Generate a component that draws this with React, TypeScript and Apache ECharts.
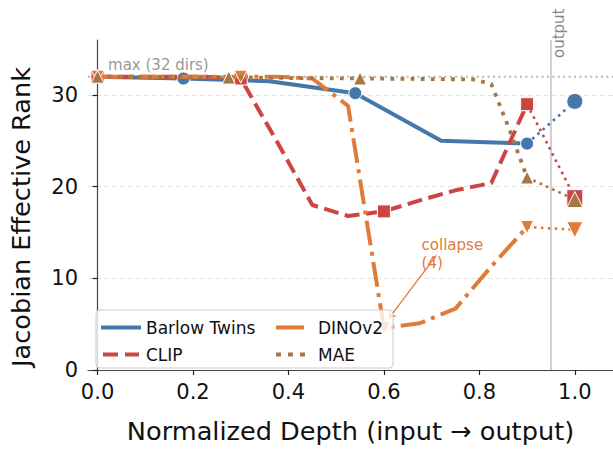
import React, { useEffect, useRef } from "react";
import * as echarts from "echarts";

const FONT = "DejaVu Sans";

// tick labels
const xTicks = [0, 0.2, 0.4, 0.6, 0.8, 1.0];
const yTicks = [0, 10, 20, 30];

// Barlow Twins
const barlowX = [0, 0.18, 0.36, 0.54, 0.72, 0.9];
const barlowY = [32.0, 31.8, 31.5, 30.2, 25.0, 24.7];
const barlowMarked = [1, 3, 5];

// CLIP
const clipX = [0, 0.075, 0.15, 0.225, 0.3, 0.375, 0.45, 0.525, 0.6, 0.675, 0.75, 0.825, 0.9];
const clipY = [32.0, 32.0, 32.0, 32.0, 31.8, 25.0, 18.0, 16.8, 17.3, 18.5, 19.6, 20.4, 29.0];
const clipMarked = [0, 4, 8, 12];

// DINOv2
const dinoX = [0, 0.075, 0.15, 0.225, 0.3, 0.375, 0.45, 0.525, 0.6, 0.675, 0.75, 0.825, 0.9];
const dinoY = [32.0, 32.0, 32.0, 32.0, 32.0, 32.0, 31.8, 28.8, 4.6, 5.1, 6.7, 11.3, 15.6];
const dinoMarked = [0, 4, 8, 12];

// MAE
const maeX = [0, 0.275, 0.55, 0.7875, 0.825, 0.8625, 0.9];
const maeY = [32.0, 31.9, 31.8, 31.7, 31.2, 26.3, 21.0];
const maeMarked = [0, 1, 2, 6];

// output layer values (x = 1.0)
const outputX = 1.0;
const outputValues = [29.3, 18.8, 15.3, 18.6]; // Barlow, CLIP, DINOv2, MAE

const maxRank = 32;
const outputBoundary = 0.95;

const COLORS = ["#4477aa", "#cc4444", "#e07b39", "#a67744"];
const NAMES = ["Barlow Twins", "CLIP", "DINOv2", "MAE"];

function mainSeries(
  name: string,
  xs: number[],
  ys: number[],
  marked: number[],
  color: string,
  lineType: any,
  width: number,
  symbol: string,
  rotate: number,
  z: number
) {
  return {
    type: "line",
    name,
    z,
    symbol,
    symbolSize: 13,
    symbolRotate: rotate,
    showSymbol: true,
    clip: false,
    lineStyle: { color, width, type: lineType, cap: "butt", join: "round" },
    itemStyle: { color, borderColor: "#ffffff", borderWidth: 1 },
    data: xs.map((x, i) =>
      marked.includes(i)
        ? { value: [x, ys[i]] }
        : { value: [x, ys[i]], symbol: "none" }
    ),
  };
}

function extSeries(
  name: string,
  x0: number,
  y0: number,
  y1: number,
  color: string,
  symbol: string,
  rotate: number,
  z: number
) {
  return {
    type: "line",
    name: name + " (output)",
    z,
    clip: false,
    symbol,
    symbolSize: 16,
    symbolRotate: rotate,
    lineStyle: { color, width: 2.6, type: [2.6, 4.3], cap: "butt" },
    itemStyle: { color, borderColor: "#ffffff", borderWidth: 1 },
    data: [{ value: [x0, y0], symbol: "none" }, { value: [outputX, y1] }],
  };
}

export default function App() {
  const ref = useRef<HTMLDivElement>(null);
  useEffect(() => {
    if (!ref.current) return;
    const chart = echarts.init(ref.current, null, { renderer: "svg" });
    const last = (a: number[]) => a[a.length - 1];
    const option: any = {
      animation: false,
      backgroundColor: "#ffffff",
      textStyle: { fontFamily: FONT },
      grid: { left: 87, right: 0, top: 40, bottom: 71, containLabel: false },
      xAxis: {
        type: "value",
        min: -0.02,
        max: 1.08,
        name: "Normalized Depth (input \u2192 output)",
        nameLocation: "middle",
        nameGap: 48,
        nameTextStyle: { fontSize: 25.6, color: "#111", fontFamily: FONT },
        axisLine: { onZero: false, lineStyle: { color: "#444", width: 1.2 } },
        axisTick: { show: true, length: 5, customValues: xTicks, lineStyle: { color: "#222", width: 1.2 } },
        axisLabel: {
          customValues: xTicks,
          formatter: (v: number) => v.toFixed(1),
          fontSize: 21,
          color: "#111",
          margin: 11,
          fontFamily: FONT,
        },
        splitLine: { show: false },
      },
      yAxis: {
        type: "value",
        min: 0,
        max: 36,
        interval: 10,
        name: "Jacobian Effective Rank",
        nameLocation: "middle",
        nameGap: 54,
        nameTextStyle: { fontSize: 25.6, color: "#111", fontFamily: FONT, padding: [0, 0, 0, -24] },
        axisLine: { show: true, lineStyle: { color: "#444", width: 1.2 } },
        axisTick: { show: true, length: 5, customValues: yTicks, lineStyle: { color: "#222", width: 1.2 } },
        axisLabel: { customValues: yTicks, fontSize: 21, color: "#111", margin: 10, fontFamily: FONT },
        splitLine: { show: true, lineStyle: { color: "#e3e3e3", type: [5, 3], width: 1 } },
      },
      legend: [
        {
          data: [
            { name: NAMES[0], icon: "path://M0 0h40v4H0z" },
            { name: NAMES[1], icon: "path://M2 0h15v4H2z M24 0h14v4H24z M0 0L0 4 M40 0L40 4" },
          ],
          orient: "vertical",
          left: 96,
          top: 314,
          itemWidth: 40,
          itemHeight: 4,
          itemGap: 10,
          selectedMode: false,
          itemStyle: { borderWidth: 0 },
          textStyle: { fontSize: 17, color: "#111", fontFamily: FONT },
          z: 30,
        },
        {
          data: [
            { name: NAMES[2], icon: "path://M3 0h28v4H3z M0 0L0 4 M40 0L40 4" },
            { name: NAMES[3], icon: "path://M3 0h5v4H3z M15 0h5v4H15z M27 0h5v4H27z M0 0L0 4 M40 0L40 4" },
          ],
          orient: "vertical",
          left: 268,
          top: 314,
          itemWidth: 40,
          itemHeight: 4,
          itemGap: 10,
          selectedMode: false,
          itemStyle: { borderWidth: 0 },
          textStyle: { fontSize: 17, color: "#111", fontFamily: FONT },
          z: 30,
        },
      ],
      series: [
        {
          type: "line",
          name: "output boundary",
          z: 1,
          symbol: "none",
          clip: true,
          lineStyle: { color: "#d0d0d0", width: 2 },
          data: [[outputBoundary, 0], [outputBoundary, 36]],
        },
        {
          type: "line",
          name: "max line",
          z: 1,
          symbol: "none",
          lineStyle: { color: "#b5b5b5", width: 2, type: [2, 3.4], cap: "butt" },
          data: [[-0.02, maxRank], [1.08, maxRank]],
        },
        mainSeries(NAMES[0], barlowX, barlowY, barlowMarked, COLORS[0], "solid", 4, "circle", 0, 2),
        mainSeries(NAMES[1], clipX, clipY, clipMarked, COLORS[1], [15, 6.5], 4, "rect", 0, 3),
        {
          ...mainSeries(NAMES[2], dinoX, dinoY, dinoMarked, COLORS[2], [25, 6.4, 4, 6.4], 4, "triangle", 180, 4),
          markLine: {
            silent: true,
            symbol: ["none", "arrow"],
            symbolSize: 7,
            label: { show: false },
            lineStyle: { color: COLORS[2], width: 1.3, type: "solid" },
            data: [[{ coord: [0.71, 12.5] }, { coord: [0.61, 5.6] }]],
          },
        },
        mainSeries(NAMES[3], maeX, maeY, maeMarked, COLORS[3], [3.8, 6.3], 3.8, "triangle", 0, 5),
        extSeries(NAMES[0], last(barlowX), last(barlowY), outputValues[0], COLORS[0], "circle", 0, 6),
        extSeries(NAMES[1], last(clipX), last(clipY), outputValues[1], COLORS[1], "rect", 0, 6),
        extSeries(NAMES[2], last(dinoX), last(dinoY), outputValues[2], COLORS[2], "triangle", 180, 6),
        extSeries(NAMES[3], last(maeX), last(maeY), outputValues[3], COLORS[3], "triangle", 0, 7),
      ],
    };
    chart.setOption(option);

    const p = (x: number, y: number) => chart.convertToPixel({ gridIndex: 0 }, [x, y]) as number[];
    const maxPos = p(0.022, maxRank);
    const outPos = p(outputBoundary, 36);
    const colPos = p(0.679, 14.6);
    chart.setOption({
      graphic: [
        {
          type: "rect",
          z: 20,
          shape: { x: 96, y: 310, width: 297, height: 58, r: 4 },
          style: { fill: "rgba(255,255,255,0.8)", stroke: "#cccccc", lineWidth: 1 },
          silent: true,
        },
        {
          type: "text",
          z: 25,
          x: maxPos[0],
          y: maxPos[1] - 4,
          style: {
            text: "max (32 dirs)",
            fill: "#999999",
            font: `15px "${FONT}"`,
            textAlign: "left",
            textVerticalAlign: "bottom",
          },
        },
        {
          type: "text",
          z: 25,
          x: outPos[0] + 8,
          y: outPos[1] + 18,
          rotation: Math.PI / 2,
          style: {
            text: "output",
            fill: "#888888",
            font: `15px "${FONT}"`,
            textAlign: "left",
            textVerticalAlign: "middle",
          },
        },
        {
          type: "text",
          z: 25,
          x: colPos[0],
          y: colPos[1],
          style: {
            text: "collapse\n(4)",
            fill: COLORS[2],
            font: `15px "${FONT}"`,
            textAlign: "left",
            textVerticalAlign: "top",
            lineHeight: 18,
          },
        },
      ],
    });
    return () => chart.dispose();
  }, []);
  return (
    <div
      ref={ref}
      style={{ position: "absolute", left: 0, top: 0, width: 613, height: 449 }}
    />
  );
}
